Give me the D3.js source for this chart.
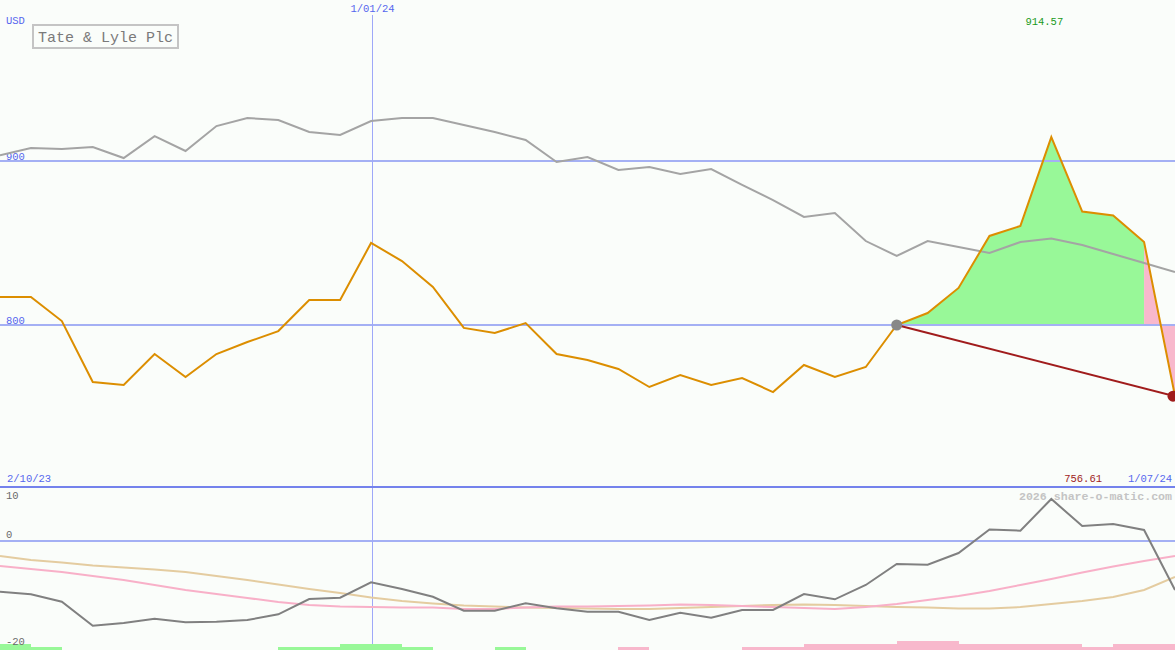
<!DOCTYPE html>
<html><head><meta charset="utf-8">
<script src="https://cdn.jsdelivr.net/npm/d3@7"></script>
<style>
html,body{margin:0;padding:0;background:#fafdfa;}
svg{display:block;}
text{font-family:"Liberation Mono","DejaVu Sans Mono",monospace;}
</style></head>
<body><svg id="c" width="1175" height="650"></svg>
<script>
// ---------- data ----------
const title = "Tate & Lyle Plc";
const currency = "USD";
const startLabel = "2/10/23";
const endLabel = "1/07/24";
const midTickIndex = [12];
const midTickLabels = ["1/01/24"];
const priceGridValues = [900, 800];
const lowerTickLabels = ["10", "0", "-20"];

const price = [817.1,817.1,802.4,765.2,763.4,782.3,768.3,782.3,789.6,796.3,
  815.2,815.2,850.0,839.0,823.2,798.2,795.1,801.2,782.3,778.7,
  773.2,762.2,769.5,763.4,767.7,759.1,775.6,768.3,774.4,800.0,
  807.3,822.6,854.3,860.4,914.57,869.2,866.8,850.6,756.61];
const compare = [903.5,907.9,907.3,908.5,901.8,915.2,906.1,921.3,926.2,925.0,
  917.7,915.9,924.4,926.2,926.2,922.0,917.7,912.8,899.4,902.4,
  894.5,896.3,892.1,895.1,885.4,876.2,865.9,868.3,851.2,842.1,
  851.2,847.6,843.9,850.6,852.7,848.8,843.3,837.8,832.3];
const oscillator = [-9.84,-10.35,-11.79,-16.45,-15.92,-15.09,-15.79,-15.67,-15.34,-14.23,
  -11.26,-11.01,-8.02,-9.32,-10.82,-13.53,-13.53,-12.10,-13.07,-13.73,
  -13.73,-15.34,-13.92,-14.89,-13.40,-13.40,-10.29,-11.32,-8.54,-4.47,
  -4.60,-2.33,2.23,2.00,8.16,2.91,3.30,2.14,-9.51];
const signalPink = [-4.85,-5.44,-6.02,-6.80,-7.57,-8.54,-9.51,-10.29,-11.07,-11.84,
  -12.43,-12.72,-12.82,-12.91,-12.91,-13.20,-13.20,-12.91,-12.72,-12.72,
  -12.62,-12.52,-12.33,-12.43,-12.62,-12.82,-13.01,-13.20,-12.82,-12.23,
  -11.46,-10.68,-9.71,-8.54,-7.38,-6.12,-4.95,-3.88,-2.91];
const signalTan = [-2.91,-3.69,-4.17,-4.76,-5.15,-5.53,-6.02,-6.80,-7.57,-8.45,
  -9.32,-10.10,-10.97,-11.65,-12.14,-12.52,-12.72,-12.91,-13.01,-13.11,
  -13.20,-13.20,-13.01,-12.82,-12.62,-12.43,-12.33,-12.43,-12.62,-12.82,
  -12.91,-13.11,-13.11,-12.82,-12.23,-11.65,-10.87,-9.51,-6.99];
const histogram = [2,1,0,0,0,0,0,0,0,1,1,2,2,1,0,0,1,0,0,0,
  -1,0,0,0,-1,-1,-2,-2,-2,-3,-3,-2,-2,-2,-2,-1,-2,-2];
const refIndex = 29;      // reference point (grey dot)
const greenEnd = 37;      // green fill until here, pink afterwards
const maxLabel = "914.57";
const lastLabel = "756.61";
const watermark = "2026 share-o-matic.com";

// ---------- scales ----------
const W = 1175, H = 650;
const svg = d3.select("#c");
const n = price.length;
const x = d3.scaleLinear().domain([0, n - 1]).range([0, W]);
const y = d3.scaleLinear().domain([800, 900]).range([325, 161]);
const yl = d3.scaleLinear().domain([-20, 10]).range([644, 489.5]);
const yh = d3.scaleLinear().domain([0, 3]).range([650, 641]);

const blueText = "#5566ee";
const grid = "#a4b0f4";

svg.append("rect").attr("width", W).attr("height", H).attr("fill", "#fafdfa");

// ---------- fills ----------
const refVal = price[refIndex];
const area = d3.area().x(i => x(i)).y0(y(refVal)).y1(i => y(price[i]));
svg.append("path").datum(d3.range(refIndex, greenEnd + 1))
  .attr("d", area).attr("fill", "#98f898");
svg.append("path").datum(d3.range(greenEnd, n))
  .attr("d", area).attr("fill", "#f8b8cc");

// grid lines main
priceGridValues.forEach(v => {
  svg.append("line").attr("x1", 0).attr("x2", W).attr("y1", y(v)).attr("y2", y(v))
    .attr("stroke", grid).attr("stroke-width", 2);
  svg.append("text").attr("x", 6).attr("y", y(v) - 1).attr("font-size", 10.5)
    .attr("fill", blueText).text(v);
});
svg.append("line").attr("x1", 0).attr("x2", W).attr("y1", yl(0)).attr("y2", yl(0))
  .attr("stroke", grid).attr("stroke-width", 2);

// vertical date line
midTickIndex.forEach((t, k) => {
  const xp = Math.floor(x(t)) + 1.5;
  svg.append("line").attr("x1", xp).attr("x2", xp).attr("y1", 15).attr("y2", 645)
    .attr("stroke", "#9ea8f8").attr("stroke-width", 1);
  svg.append("text").attr("x", xp).attr("y", 12).attr("text-anchor", "middle")
    .attr("font-size", 10.5).attr("fill", blueText).text(midTickLabels[k]);
});

// divider
svg.append("line").attr("x1", 0).attr("x2", W).attr("y1", 487).attr("y2", 487)
  .attr("stroke", "#7482ec").attr("stroke-width", 2);

// ---------- main lines ----------
const lineOf = arr => d3.line().x((d, i) => x(i)).y(d => y(d))(arr);
svg.append("path").attr("d", lineOf(compare)).attr("fill", "none")
  .attr("stroke", "#a4a4a4").attr("stroke-width", 2);
svg.append("path").attr("d", lineOf(price)).attr("fill", "none")
  .attr("stroke", "#dc8e00").attr("stroke-width", 2);

svg.append("line").attr("x1", x(refIndex)).attr("y1", y(refVal))
  .attr("x2", x(n - 1)).attr("y2", y(price[n - 1]))
  .attr("stroke", "#a01c1c").attr("stroke-width", 2);
svg.append("circle").attr("cx", x(refIndex)).attr("cy", y(refVal)).attr("r", 5.5)
  .attr("fill", "#888888");
svg.append("circle").attr("cx", x(n - 1) - 2).attr("cy", y(price[n - 1])).attr("r", 5.5)
  .attr("fill", "#a01c1c");

// ---------- lower panel ----------
histogram.forEach((h, i) => {
  if (!h) return;
  svg.append("rect").attr("x", Math.round(x(i))).attr("width", Math.round(x(i + 1)) - Math.round(x(i)))
    .attr("y", yh(Math.abs(h))).attr("height", yh(0) - yh(Math.abs(h)))
    .attr("shape-rendering", "crispEdges")
    .attr("fill", h > 0 ? "#98f898" : "#f8b8cc");
});
const lineL = arr => d3.line().x((d, i) => x(i)).y(d => yl(d))(arr);
svg.append("path").attr("d", lineL(signalTan)).attr("fill", "none")
  .attr("stroke", "#e4cca0").attr("stroke-width", 2);
svg.append("path").attr("d", lineL(signalPink)).attr("fill", "none")
  .attr("stroke", "#f8b0c8").attr("stroke-width", 2);
svg.append("path").attr("d", lineL(oscillator)).attr("fill", "none")
  .attr("stroke", "#808080").attr("stroke-width", 2);

svg.append("text").attr("x", 6).attr("y", 499).attr("font-size", 10.5).attr("fill", "#6a6a6a").text(lowerTickLabels[0]);
svg.append("text").attr("x", 6).attr("y", 538).attr("font-size", 10.5).attr("fill", "#6a6a6a").text(lowerTickLabels[1]);
svg.append("text").attr("x", 6).attr("y", 645).attr("font-size", 10.5).attr("fill", "#6a6a6a").text(lowerTickLabels[2]);

// ---------- texts ----------
svg.append("text").attr("x", 6).attr("y", 24).attr("font-size", 10.5).attr("fill", blueText).text(currency);
svg.append("rect").attr("x", 33).attr("y", 25).attr("width", 145).attr("height", 23)
  .attr("fill", "none").attr("stroke", "#c4c4c4").attr("stroke-width", 2);
svg.append("text").attr("x", 38).attr("y", 42).attr("font-size", 15).attr("fill", "#7a7a7a").text(title);

svg.append("text").attr("x", x(price.indexOf(d3.max(price))) - 7).attr("y", 25)
  .attr("text-anchor", "middle").attr("font-size", 10.5).attr("fill", "#1a9a1a").text(maxLabel);

svg.append("text").attr("x", 7).attr("y", 482).attr("font-size", 10.5).attr("fill", blueText).text(startLabel);
svg.append("text").attr("x", 1172).attr("y", 482).attr("text-anchor", "end").attr("font-size", 10.5).attr("fill", blueText).text(endLabel);
svg.append("text").attr("x", 1102).attr("y", 482).attr("text-anchor", "end").attr("font-size", 10.5).attr("fill", "#a01c1c").text(lastLabel);

svg.append("text").attr("x", 1172).attr("y", 500).attr("text-anchor", "end").attr("font-size", 11.6)
  .attr("font-weight", "bold").attr("fill", "#c4c4c4").text(watermark);
</script></body></html>
